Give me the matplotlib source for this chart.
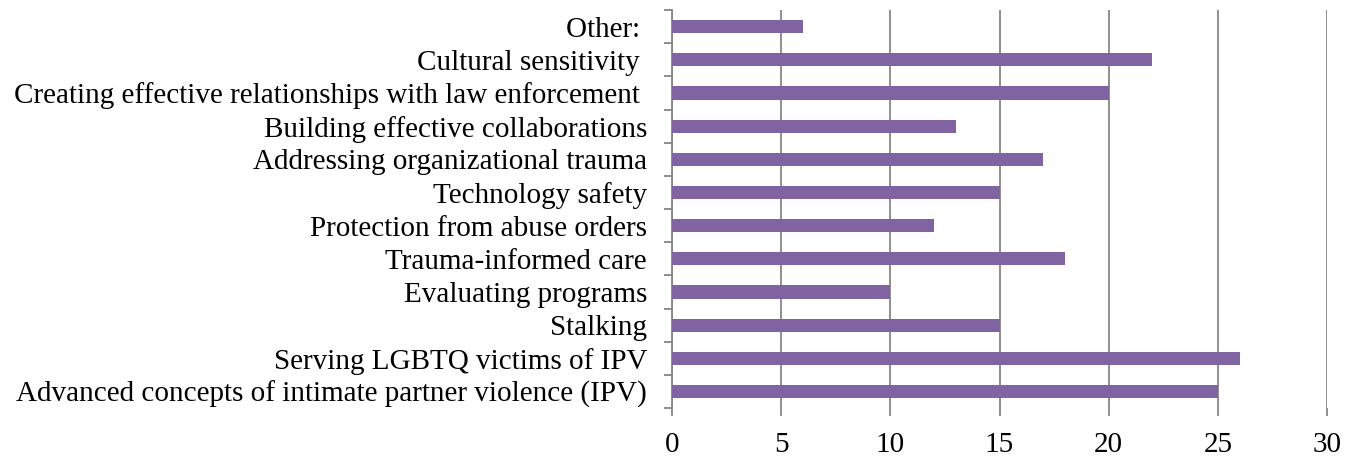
import numpy as np
import matplotlib.pyplot as plt

categories = [
    "Advanced concepts of intimate partner violence (IPV)",
    "Serving LGBTQ victims of IPV",
    "Stalking",
    "Evaluating programs",
    "Trauma-informed care",
    "Protection from abuse orders",
    "Technology safety",
    "Addressing organizational trauma",
    "Building effective collaborations",
    "Creating effective relationships with law enforcement ",
    "Cultural sensitivity ",
    "Other: ",
]
counts = [25, 26, 15, 10, 18, 12, 15, 17, 13, 20, 22, 6]
x_ticks = [0, 5, 10, 15, 20, 25, 30]

plt.rcParams['font.family'] = ['Liberation Serif', 'DejaVu Serif']

fig = plt.figure(figsize=(13.56, 4.57), dpi=100)
ax = fig.add_axes([0.4956, 0.107, 0.483, 0.871])

grey = '#868686'
y = np.arange(len(categories))
ax.barh(y, counts, height=0.4, color='#8064A2', zorder=3)

ax.set_xlim(0, 30)
ax.set_ylim(-0.5, len(categories) - 0.5)
ax.set_xticks(x_ticks)
ax.set_xticklabels([str(t) for t in x_ticks], fontsize=21)
ax.set_yticks(y)
ax.set_yticklabels(categories, fontsize=21)
ax.set_yticks(np.arange(len(categories) + 1) - 0.5, minor=True)

ax.grid(axis='x', color=grey, linewidth=1.3, zorder=0)
for s in ['top', 'right', 'bottom']:
    ax.spines[s].set_visible(False)
ax.spines['left'].set_color(grey)
ax.spines['left'].set_linewidth(1.3)

ax.tick_params(axis='y', which='major', length=0, pad=18)
ax.tick_params(axis='y', which='minor', length=6, width=1.3, color=grey)
ax.tick_params(axis='x', which='major', length=6, width=1.3, color=grey, pad=11)

fig.savefig('out.png', dpi=100)
